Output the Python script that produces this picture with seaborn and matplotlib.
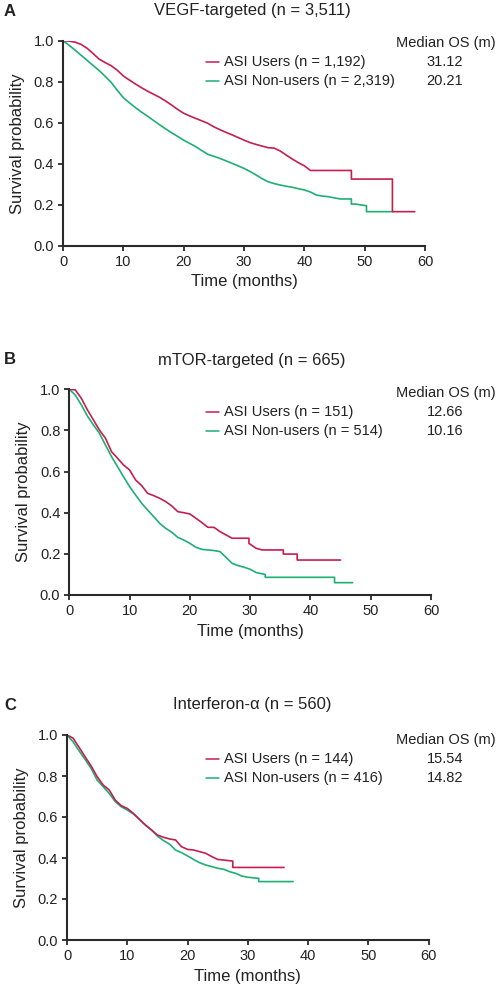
import numpy as np
import pandas as pd
import matplotlib
matplotlib.use("Agg")
import matplotlib.pyplot as plt
import seaborn as sns

sns.set_theme(style="ticks")
plt.rcParams['font.family'] = ['Liberation Sans', 'DejaVu Sans']

# ---------------- data ----------------
panel_letters = ["A", "B", "C"]
panel_titles = ["VEGF-targeted (n = 3,511)", "mTOR-targeted (n = 665)", "Interferon-\u03b1 (n = 560)"]
user_labels = ["ASI Users (n = 1,192)", "ASI Users (n = 151)", "ASI Users (n = 144)"]
nonuser_labels = ["ASI Non-users (n = 2,319)", "ASI Non-users (n = 514)", "ASI Non-users (n = 416)"]
user_median = ["31.12", "12.66", "15.54"]
nonuser_median = ["20.21", "10.16", "14.82"]
x_ticks = [0, 10, 20, 30, 40, 50, 60]
y_ticks = [0.0, 0.2, 0.4, 0.6, 0.8, 1.0]

# Panel A
a_user_t = [0, 1, 2, 3, 4, 5, 6, 7, 8, 9, 10, 11, 12, 13, 14, 15, 16, 17, 18, 19, 20, 21, 22, 23, 24,
            25, 26, 27, 28, 29, 30, 31, 32, 33, 34, 35, 36, 37, 38, 39, 40, 41, 47.8, 47.8, 54.6, 54.6, 58.3]
a_user_s = [1.0, 0.998, 0.993, 0.982, 0.963, 0.937, 0.910, 0.893, 0.878, 0.856, 0.828, 0.808, 0.789, 0.771,
            0.754, 0.739, 0.724, 0.706, 0.686, 0.665, 0.646, 0.633, 0.621, 0.609, 0.597, 0.580, 0.566, 0.553,
            0.541, 0.528, 0.515, 0.503, 0.494, 0.486, 0.478, 0.476, 0.462, 0.442, 0.423, 0.405, 0.390, 0.367,
            0.367, 0.325, 0.325, 0.166, 0.166]
a_non_t = [0, 1, 2, 3, 4, 5, 6, 7, 8, 9, 10, 11, 12, 13, 14, 15, 16, 17, 18, 19, 20, 21, 22, 23, 24,
           25, 26, 27, 28, 29, 30, 31, 32, 33, 34, 35, 36, 37, 38, 39, 40, 41, 42, 43, 44, 45, 46, 47.8,
           47.8, 48.5, 50.3, 50.3, 54.6]
a_non_s = [1.0, 0.978, 0.954, 0.929, 0.904, 0.879, 0.854, 0.826, 0.796, 0.758, 0.722, 0.697, 0.674, 0.652,
           0.632, 0.611, 0.590, 0.570, 0.551, 0.533, 0.515, 0.499, 0.483, 0.464, 0.446, 0.436, 0.426, 0.414,
           0.402, 0.390, 0.377, 0.362, 0.345, 0.327, 0.312, 0.303, 0.296, 0.290, 0.285, 0.278, 0.272, 0.262,
           0.247, 0.242, 0.239, 0.233, 0.228, 0.228, 0.203, 0.203, 0.195, 0.166, 0.166]

# Panel B
b_user_t = [0, 1, 2, 3, 4, 5, 6, 7, 8, 9, 10, 11, 12, 13, 14, 15, 16, 17, 18, 19, 20, 21, 22, 23, 24,
            25, 26, 27, 29.8, 29.8, 31, 32, 35.5, 35.5, 37.8, 37.8, 45]
b_user_s = [1.0, 0.997, 0.956, 0.900, 0.851, 0.802, 0.762, 0.697, 0.665, 0.632, 0.608, 0.559, 0.532, 0.494,
            0.483, 0.470, 0.454, 0.433, 0.405, 0.400, 0.394, 0.373, 0.352, 0.329, 0.329, 0.308, 0.292, 0.276,
            0.276, 0.251, 0.227, 0.219, 0.219, 0.199, 0.199, 0.170, 0.170]
b_non_t = [0, 1, 2, 3, 4, 5, 6, 7, 8, 9, 10, 11, 12, 13, 14, 15, 16, 17, 18, 19, 20, 21, 22, 23, 24,
           25, 26, 27, 28, 29, 30, 31, 32.5, 32.5, 44, 44, 47]
b_non_s = [1.0, 0.972, 0.924, 0.870, 0.827, 0.786, 0.729, 0.673, 0.624, 0.575, 0.527, 0.486, 0.446, 0.413,
           0.381, 0.348, 0.324, 0.305, 0.280, 0.267, 0.251, 0.232, 0.222, 0.219, 0.216, 0.211, 0.183, 0.154,
           0.143, 0.135, 0.125, 0.109, 0.100, 0.086, 0.086, 0.060, 0.060]

# Panel C
c_user_t = [0, 1, 2, 3, 4, 5, 6, 7, 8, 9, 10, 11, 12, 13, 14, 15, 16, 17, 18, 19, 20, 21, 22, 23, 24,
            25, 26, 27.5, 27.5, 36]
c_user_s = [1.0, 0.985, 0.940, 0.894, 0.849, 0.797, 0.756, 0.732, 0.683, 0.655, 0.642, 0.618, 0.589, 0.561,
            0.537, 0.512, 0.501, 0.493, 0.488, 0.455, 0.442, 0.439, 0.431, 0.423, 0.407, 0.393, 0.390, 0.385,
            0.354, 0.354]
c_non_t = [0, 1, 2, 3, 4, 5, 6, 7, 8, 9, 10, 11, 12, 13, 14, 15, 16, 17, 18, 19, 20, 21, 22, 23, 24,
           25, 26, 27, 28, 29, 30, 31.8, 31.8, 37.5]
c_non_s = [1.0, 0.967, 0.923, 0.881, 0.837, 0.780, 0.748, 0.715, 0.675, 0.650, 0.634, 0.615, 0.589, 0.561,
           0.537, 0.507, 0.485, 0.468, 0.439, 0.426, 0.410, 0.393, 0.377, 0.366, 0.358, 0.350, 0.345, 0.333,
           0.325, 0.312, 0.306, 0.301, 0.285, 0.285]

user_t = [a_user_t, b_user_t, c_user_t]
user_s = [a_user_s, b_user_s, c_user_s]
non_t = [a_non_t, b_non_t, c_non_t]
non_s = [a_non_s, b_non_s, c_non_s]

RED = "#C41F4E"
GREEN = "#1DAF74"
DARK = "#2a2a2a"

# axes rectangles in pixels: left, top, right, bottom
rects = [(63, 40.7, 425, 245.7), (69.3, 389.3, 431, 595), (67, 735, 428.7, 940)]
title_y = [11, 360, 705]
legend_y = [43, 393, 740]
W, H = 500, 992

fig = plt.figure(figsize=(W / 100, H / 100), dpi=100)

for i in range(3):
    l, t, r, b = rects[i]
    ax = fig.add_axes([l / W, 1 - b / H, (r - l) / W, (b - t) / H])
    df_u = pd.DataFrame({"t": user_t[i], "s": user_s[i]})
    df_n = pd.DataFrame({"t": non_t[i], "s": non_s[i]})
    sns.lineplot(data=df_n, x="t", y="s", ax=ax, color=GREEN, lw=1.2, sort=False, estimator=None)
    sns.lineplot(data=df_u, x="t", y="s", ax=ax, color=RED, lw=1.2, sort=False, estimator=None)
    ax.set_xlim(0, 60)
    ax.set_ylim(0, 1.0)
    ax.set_xticks(x_ticks)
    ax.set_yticks(y_ticks)
    ax.set_yticklabels([f"{v:.1f}" for v in y_ticks])
    ax.tick_params(axis="both", labelsize=10.5, colors=DARK, length=3.5, width=1.3, pad=3, labelcolor="#222222")
    for sp in ["top", "right"]:
        ax.spines[sp].set_visible(False)
    for sp in ["left", "bottom"]:
        ax.spines[sp].set_color(DARK)
        ax.spines[sp].set_linewidth(1.5)
    ax.set_xlabel("Time (months)", fontsize=12, color="#222222", labelpad=4)
    ax.set_ylabel("Survival probability", fontsize=12, color="#222222", labelpad=6)

    # title and panel letter
    fig.text(252 / W, 1 - title_y[i] / H, panel_titles[i], ha="center", va="center", fontsize=12, color="#222222")
    fig.text(4 / W, 1 - title_y[i] / H, panel_letters[i], ha="left", va="center", fontsize=12,
             fontweight="bold", color="#222222")

    # legend-like annotation
    ly0 = legend_y[i]
    fig.text(496 / W, 1 - ly0 / H, "Median OS (m)", ha="right", va="center", fontsize=10.5, color="#222222")
    for j, (lab, med, col) in enumerate([(user_labels[i], user_median[i], RED),
                                         (nonuser_labels[i], nonuser_median[i], GREEN)]):
        yy = 1 - (ly0 + 19 + 19 * j) / H
        fig.add_artist(plt.Line2D([206 / W, 219 / W], [yy, yy], color=col, lw=1.1))
        fig.text(224 / W, yy, lab, ha="left", va="center", fontsize=10.5, color="#222222")
        fig.text(463 / W, yy, med, ha="right", va="center", fontsize=10.5, color="#222222")

fig.savefig("out.png", dpi=100)
